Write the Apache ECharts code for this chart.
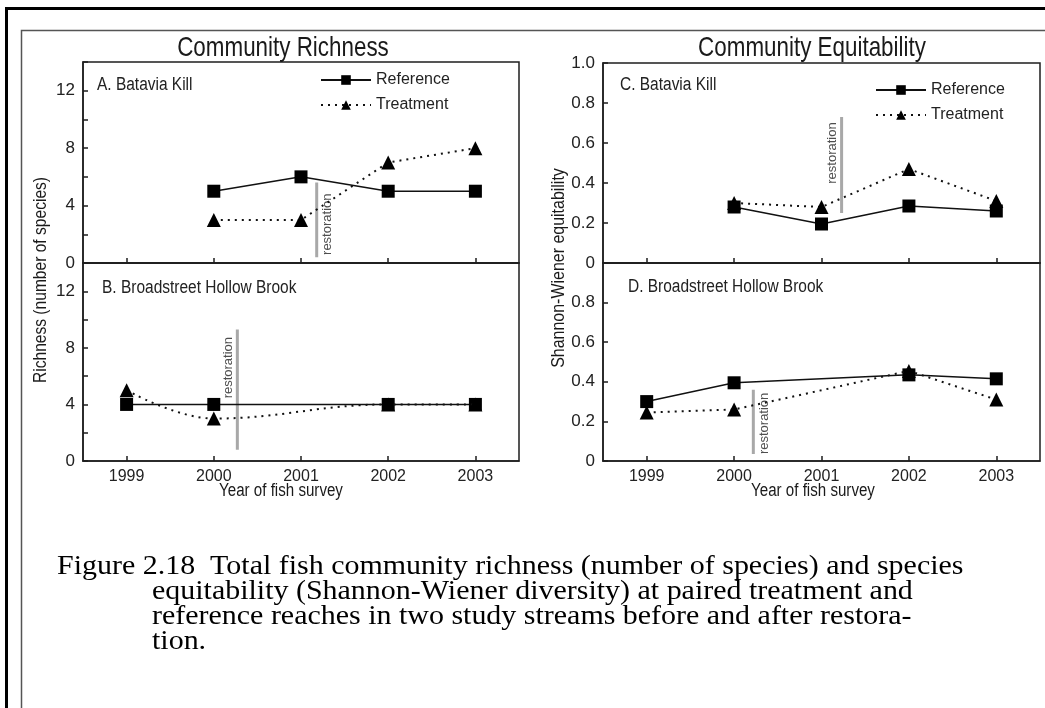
<!DOCTYPE html>
<html>
<head>
<meta charset="utf-8">
<script src="https://cdn.jsdelivr.net/npm/echarts@6/dist/echarts.min.js"></script>
<style>
  html, body { margin: 0; padding: 0; background: #fff; }
  #chart { width: 1045px; height: 708px; }
</style>
</head>
<body>
<div id="chart"></div>
<script>
// survey years and values
const years = [1999, 2000, 2001, 2002, 2003];
const richRefA = [null, 5, 6, 5, 5];
const richTrtA = [null, 3, 3, 7, 8];
const richRefB = [4, 4, null, 4, 4];
const richTrtB = [5, 3, null, 4, 4];
const equRefC = [null, 0.28, 0.195, 0.285, 0.26];
const equTrtC = [null, 0.30, 0.28, 0.47, 0.31];
const equRefD = [0.30, 0.395, null, 0.435, 0.415];
const equTrtD = [0.245, 0.26, null, 0.455, 0.31];

// restoration marker for each panel (A, B, C, D)
const restoreYear = [2001.18, 2000.27, 2001.23, 2000.22];
const restoreSpan = [[0.4, 5.6], [0.8, 9.3], [0.25, 0.73], [0.035, 0.36]];
const restoreLabelAt = [[2001.3, 2.7], [2000.17, 6.6], [2001.12, 0.55], [2000.35, 0.19]];

const panelNames = ['A. Batavia Kill', 'B. Broadstreet Hollow Brook', 'C. Batavia Kill', 'D. Broadstreet Hollow Brook'];

const SANS = "'Liberation Sans', Arial, sans-serif";
const SERIF = "'Liberation Serif', 'Times New Roman', serif";
const INK = '#1e1e1e';

const chart = echarts.init(document.getElementById('chart'));

const toPairs = arr => years.map((y, i) => [y, arr[i] == null ? '-' : arr[i]]);

const grids = [
  { left: 83, top: 62, width: 436, height: 201 },
  { left: 83, top: 263, width: 436, height: 198 },
  { left: 603, top: 63, width: 437, height: 200 },
  { left: 603, top: 263, width: 437, height: 198 }
].map(g => Object.assign(g, { show: true, borderColor: INK, borderWidth: 1.5, backgroundColor: 'transparent' }));

const xAxes = grids.map((g, i) => ({
  type: 'value',
  gridIndex: i,
  min: 1998.5,
  max: 2003.5,
  splitLine: { show: false },
  axisLine: { show: true, lineStyle: { color: INK, width: 1.5 } },
  axisTick: { show: true, inside: true, length: 5, customValues: years, lineStyle: { color: INK, width: 1.5 } },
  axisLabel: {
    show: i === 1 || i === 3,
    customValues: years,
    formatter: v => String(v),
    margin: 8,
    fontFamily: SANS,
    fontSize: 16,
    color: '#222'
  }
}));

const yAxes = grids.map((g, i) => {
  const rich = i < 2;
  return {
    type: 'value',
    gridIndex: i,
    min: 0,
    max: rich ? 14 : 1,
    interval: rich ? 2 : 0.2,
    splitLine: { show: false },
    axisLine: { show: true, lineStyle: { color: INK, width: 1.5 } },
    axisTick: { show: true, inside: true, length: 5, lineStyle: { color: INK, width: 1.5 } },
    axisLabel: {
      margin: 8,
      fontFamily: SANS,
      fontSize: 17,
      color: '#222',
      showMaxLabel: true,
      formatter: v => {
        if (rich) return v % 4 === 0 ? String(v) : '';
        if (Math.abs(v) < 1e-9) return '0';
        if (i === 3 && v > 0.99) return '';
        return v.toFixed(1);
      }
    }
  };
});

const refSeries = (idx, arr) => ({
  name: 'Reference',
  type: 'line',
  xAxisIndex: idx,
  yAxisIndex: idx,
  data: toPairs(arr),
  connectNulls: true,
  symbol: 'rect',
  symbolSize: 13,
  itemStyle: { color: '#000' },
  lineStyle: { color: '#111', width: 1.5 },
  z: 3
});

const trtSeries = (idx, arr, smooth) => ({
  name: 'Treatment',
  type: 'line',
  xAxisIndex: idx,
  yAxisIndex: idx,
  data: toPairs(arr),
  connectNulls: true,
  smooth: smooth,
  symbol: 'triangle',
  symbolSize: 14,
  itemStyle: { color: '#000' },
  lineStyle: { color: '#111', width: 2, type: [2, 5] },
  z: 4
});

const restoreSeries = [];
restoreYear.forEach((x, i) => {
  restoreSeries.push({
    type: 'line',
    xAxisIndex: i,
    yAxisIndex: i,
    data: [[x, restoreSpan[i][0]], [x, restoreSpan[i][1]]],
    symbol: 'none',
    lineStyle: { color: '#a8a8a8', width: 3 },
    silent: true,
    z: 2
  });
  restoreSeries.push({
    type: 'scatter',
    xAxisIndex: i,
    yAxisIndex: i,
    data: [restoreLabelAt[i]],
    symbolSize: 0,
    silent: true,
    label: {
      show: true,
      position: 'inside',
      rotate: 90,
      formatter: 'restoration',
      fontFamily: SANS,
      fontSize: 13,
      color: '#222'
    }
  });
});

// narrow-looking text: scale glyphs horizontally
const label = (text, x, y, size, sx, extra) => Object.assign({
  type: 'text', x: x, y: y, scaleX: sx, silent: true,
  style: { text: text, font: size + 'px ' + SANS, fill: '#222', textVerticalAlign: 'middle' }
}, extra || {});

const centred = (text, size, rot) => ({
  rotation: rot || 0,
  style: { text: text, font: size + 'px ' + SANS, fill: '#1a1a1a', textAlign: 'center', textVerticalAlign: 'middle' }
});

const panelPos = [[97, 85], [102, 288], [620, 85], [628, 287]];
const panelLabels = panelNames.map((t, i) => label(t, panelPos[i][0], panelPos[i][1], 18, 0.86));

const legendBase = {
  orient: 'vertical',
  itemWidth: 50,
  itemHeight: 12,
  itemGap: 7,
  textStyle: { fontFamily: SANS, fontSize: 16, lineHeight: 18, color: '#222' },
  data: ['Reference', 'Treatment'],
  selectedMode: false
};

const option = {
  backgroundColor: '#fff',
  animation: false,
  legend: [
    Object.assign({}, legendBase, { left: 315, top: 66 }),
    Object.assign({}, legendBase, { left: 870, top: 76 })
  ],
  grid: grids,
  xAxis: xAxes,
  yAxis: yAxes,
  series: [
    refSeries(0, richRefA), trtSeries(0, richTrtA, false),
    refSeries(1, richRefB), trtSeries(1, richTrtB, 0.4),
    refSeries(2, equRefC), trtSeries(2, equTrtC, false),
    refSeries(3, equRefD), trtSeries(3, equTrtD, false)
  ].concat(restoreSeries),
  graphic: [
    { type: 'rect', shape: { x: 6.5, y: 8.5, width: 1100, height: 800 },
      style: { fill: 'none', stroke: '#000', lineWidth: 3 }, silent: true },
    { type: 'rect', shape: { x: 21.5, y: 30.5, width: 1100, height: 800 },
      style: { fill: 'none', stroke: '#555', lineWidth: 1.5 }, silent: true },
    label('', 283, 48, 28, 0.8, centred('Community Richness', 28)),
    label('', 812, 48, 28, 0.8, centred('Community Equitability', 28)),
    label('', 41, 280, 19, 0.82, centred('Richness (number of species)', 19, Math.PI / 2)),
    label('', 559, 268, 19, 0.84, centred('Shannon-Wiener equitability', 19, Math.PI / 2)),
    label('', 281, 491, 18, 0.84, centred('Year of fish survey', 18)),
    label('', 813, 491, 18, 0.84, centred('Year of fish survey', 18)),
    { type: 'text', x: 57, y: 567, scaleX: 1.07, silent: true,
      style: { text: 'Figure 2.18  Total fish community richness (number of species) and species',
        font: '28px ' + SERIF, fill: '#000', textVerticalAlign: 'middle' } },
    { type: 'text', x: 152, y: 579, scaleX: 1.07, silent: true,
      style: { text: 'equitability (Shannon-Wiener diversity) at paired treatment and\nreference reaches in two study streams before and after restora-\ntion.',
        font: '28px ' + SERIF, fill: '#000', lineHeight: 25 } }
  ].concat(panelLabels)
};

chart.setOption(option);
window.addEventListener('resize', () => chart.resize());
</script>
</body>
</html>
